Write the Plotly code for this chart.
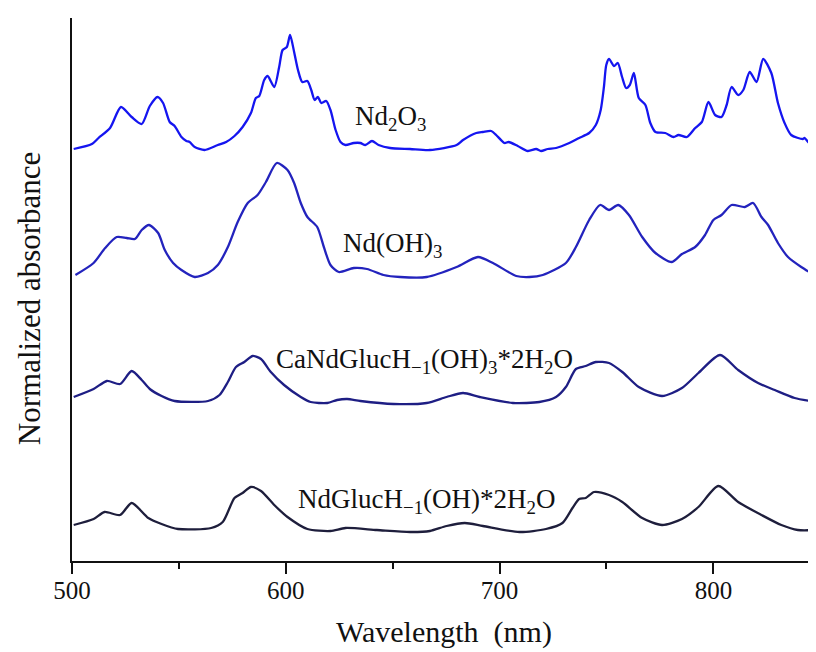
import plotly.graph_objects as go

# ---- data (wavelength in nm, normalized absorbance with vertical offsets) ----
wl_nd2o3 = [500.8, 509.3, 512.4, 517.8, 522.9, 527.9, 532.6, 536.4, 540.0, 542.6, 545.7, 548.0,
            551.2, 553.5, 555.0, 557.4, 562.0, 568.2, 572.1, 576.0, 579.8, 583.7, 586.0, 587.6,
            589.9, 591.5, 594.6, 596.9, 598.5, 600.5, 602.0, 603.9, 605.7, 607.7, 610.1, 611.9,
            613.5, 615.0, 616.6, 618.9, 620.9, 623.3, 625.6, 627.9, 631.8, 634.9, 637.2, 640.3,
            643.4, 648.8, 658.1, 667.4, 679.9, 682.9, 689.1, 692.2, 696.1, 698.4, 702.3, 704.2,
            708.5, 713.2, 717.1, 719.4, 722.5, 726.4, 732.6, 737.2, 741.9, 745.0, 747.3, 748.8,
            749.9, 751.2, 753.5, 755.3, 757.3, 759.2, 760.9, 762.8, 765.1, 768.2, 770.5, 772.9,
            777.5, 781.4, 783.7, 787.6, 791.5, 794.6, 797.7, 800.8, 803.8, 806.2, 808.5, 811.6,
            814.0, 817.0, 820.2, 823.3, 827.1, 830.2, 833.3, 836.4, 841.9, 842.6, 844.9, 848.0]
ab_nd2o3 = [4.09, 4.14, 4.20, 4.30, 4.51, 4.41, 4.34, 4.52, 4.61, 4.55, 4.36, 4.32,
            4.21, 4.17, 4.16, 4.11, 4.08, 4.13, 4.16, 4.22, 4.31, 4.45, 4.60, 4.62,
            4.78, 4.82, 4.71, 4.91, 5.08, 5.11, 5.23, 5.06, 4.88, 4.76, 4.77, 4.68,
            4.58, 4.61, 4.55, 4.57, 4.48, 4.28, 4.16, 4.13, 4.15, 4.15, 4.13, 4.17,
            4.13, 4.10, 4.09, 4.08, 4.13, 4.18, 4.25, 4.26, 4.27, 4.23, 4.15, 4.16,
            4.12, 4.07, 4.09, 4.07, 4.09, 4.10, 4.15, 4.20, 4.25, 4.33, 4.48, 4.71,
            4.93, 4.99, 4.92, 4.95, 4.81, 4.70, 4.73, 4.85, 4.60, 4.53, 4.35, 4.26,
            4.25, 4.21, 4.23, 4.21, 4.30, 4.36, 4.56, 4.43, 4.41, 4.53, 4.71, 4.63,
            4.68, 4.86, 4.76, 4.99, 4.85, 4.55, 4.35, 4.23, 4.19, 4.20, 4.15, 4.14]

wl_ndoh3 = [501.6, 510.1, 515.5, 520.9, 525.6, 529.4, 532.6, 536.0, 540.3, 543.4, 547.3, 551.2,
            557.4, 563.6, 568.2, 572.9, 577.5, 582.2, 586.8, 590.7, 595.8, 600.8, 603.9, 607.0,
            610.1, 614.7, 617.8, 620.9, 624.8, 631.8, 638.0, 645.7, 653.5, 665.9, 679.9, 689.9,
            696.9, 707.8, 714.0, 720.2, 731.0, 735.7, 741.9, 747.0, 751.2, 755.5, 760.5, 766.7,
            772.9, 780.6, 785.3, 791.5, 796.1, 800.0, 803.8, 808.5, 814.7, 818.6, 822.5, 825.6,
            830.2, 834.9, 841.1, 848.0]
ab_ndoh3 = [2.83, 2.95, 3.10, 3.21, 3.20, 3.19, 3.28, 3.33, 3.25, 3.08, 2.95, 2.88,
            2.81, 2.85, 2.93, 3.11, 3.36, 3.55, 3.63, 3.76, 3.95, 3.88, 3.75, 3.55,
            3.41, 3.31, 3.11, 2.93, 2.86, 2.90, 2.89, 2.83, 2.81, 2.81, 2.91, 3.01,
            2.95, 2.82, 2.81, 2.83, 2.95, 3.11, 3.38, 3.53, 3.48, 3.53, 3.43, 3.21,
            3.05, 2.96, 3.04, 3.11, 3.23, 3.38, 3.43, 3.53, 3.51, 3.55, 3.41, 3.33,
            3.15, 3.01, 2.91, 2.82]

wl_cand = [500.8, 510.1, 516.3, 522.5, 527.9, 532.6, 536.4, 541.9, 548.0, 563.6, 569.0, 572.9,
           576.7, 580.6, 584.5, 588.4, 593.0, 599.2, 607.0, 611.6, 619.4, 624.0, 628.7, 634.9,
           650.4, 665.9, 675.2, 682.9, 690.7, 706.2, 718.6, 726.4, 731.0, 735.7, 740.3, 745.0,
           751.2, 757.4, 765.1, 776.0, 785.3, 793.0, 803.1, 811.6, 820.9, 828.7, 838.0, 848.0]
ab_cand = [1.61, 1.69, 1.77, 1.74, 1.87, 1.78, 1.69, 1.62, 1.57, 1.57, 1.63, 1.76,
           1.91, 1.96, 2.02, 1.99, 1.86, 1.73, 1.61, 1.56, 1.55, 1.58, 1.59, 1.57,
           1.54, 1.55, 1.61, 1.65, 1.61, 1.55, 1.56, 1.61, 1.71, 1.89, 1.92, 1.96,
           1.95, 1.86, 1.71, 1.62, 1.70, 1.85, 2.03, 1.88, 1.75, 1.68, 1.60, 1.56]

wl_nd = [500.8, 510.1, 515.2, 522.5, 527.9, 535.7, 541.9, 549.6, 565.1, 570.5, 576.0, 579.8,
         583.7, 588.4, 594.6, 600.8, 610.1, 620.9, 627.9, 642.6, 658.1, 667.4, 675.2, 683.7,
         692.2, 709.3, 721.7, 729.4, 734.1, 737.2, 740.3, 744.2, 751.2, 757.4, 766.7, 776.0,
         785.3, 793.0, 802.3, 811.6, 822.5, 831.8, 839.5, 848.0]
ab_nd = [0.33, 0.39, 0.46, 0.43, 0.55, 0.40, 0.34, 0.29, 0.30, 0.36, 0.60, 0.65,
         0.71, 0.67, 0.53, 0.41, 0.29, 0.27, 0.30, 0.28, 0.26, 0.27, 0.32, 0.35,
         0.32, 0.26, 0.29, 0.35, 0.50, 0.59, 0.60, 0.66, 0.63, 0.56, 0.40, 0.33,
         0.39, 0.51, 0.72, 0.56, 0.43, 0.33, 0.28, 0.28]

x_ticks = [500, 600, 700, 800]
x_minor = [550, 650, 750, 850]

series = [
    ("Nd<sub>2</sub>O<sub>3</sub>", wl_nd2o3, ab_nd2o3, "#1515f0", 649, 4.40),
    ("Nd(OH)<sub>3</sub>", wl_ndoh3, ab_ndoh3, "#2323bd", 650, 3.13),
    ("CaNdGlucH<sub>\u22121</sub>(OH)<sub>3</sub>*2H<sub>2</sub>O", wl_cand, ab_cand, "#1e1e84", 665, 1.97),
    ("NdGlucH<sub>\u22121</sub>(OH)*2H<sub>2</sub>O", wl_nd, ab_nd, "#1e1e3c", 666, 0.57),
]

FONT = "Liberation Serif, Times New Roman, serif"
fig = go.Figure()
for name, x, y, col, lx, ly in series:
    fig.add_trace(go.Scatter(x=x, y=y, mode="lines", name=name,
                             line=dict(color=col, width=2.3, shape="spline", smoothing=0.7),
                             showlegend=False, hoverinfo="skip"))
    fig.add_annotation(x=lx, y=ly, text=name, showarrow=False,
                       font=dict(family=FONT, size=27, color="#111111"))

# y-axis title placed as a rotated annotation (no tick labels on this axis)
fig.add_annotation(xref="paper", yref="paper", x=0, y=0.484, xanchor="center", yanchor="middle",
                   xshift=-43, textangle=-90, showarrow=False,
                   text="Normalized absorbance",
                   font=dict(family=FONT, size=31, color="#111111"))

# page body has an 8px margin, so the figure is sized 808x644 to fill the 816x652 window
fig.update_layout(
    width=808, height=644,
    margin=dict(l=64, r=0, t=10, b=91),
    plot_bgcolor="white", paper_bgcolor="white",
    font=dict(family=FONT, color="#111111"),
)
fig.update_xaxes(
    range=[500, 848], showgrid=False, zeroline=False,
    showline=True, linecolor="#111111", linewidth=2,
    tickmode="array", tickvals=x_ticks, ticks="outside", ticklen=11, tickwidth=2,
    tickcolor="#111111", tickfont=dict(family=FONT, size=25, color="#111111"),
    ticklabelstandoff=-5,
    minor=dict(tickmode="array", tickvals=x_minor, ticks="outside", ticklen=6,
               tickwidth=2, tickcolor="#111111"),
    title=dict(text="Wavelength  (nm)", font=dict(family=FONT, size=30, color="#111111"),
               standoff=18),
)
fig.update_yaxes(
    range=[-0.03, 5.40], showgrid=False, zeroline=False,
    showline=True, linecolor="#111111", linewidth=2,
    showticklabels=False, ticks="",
)

fig.write_html("out.html")
